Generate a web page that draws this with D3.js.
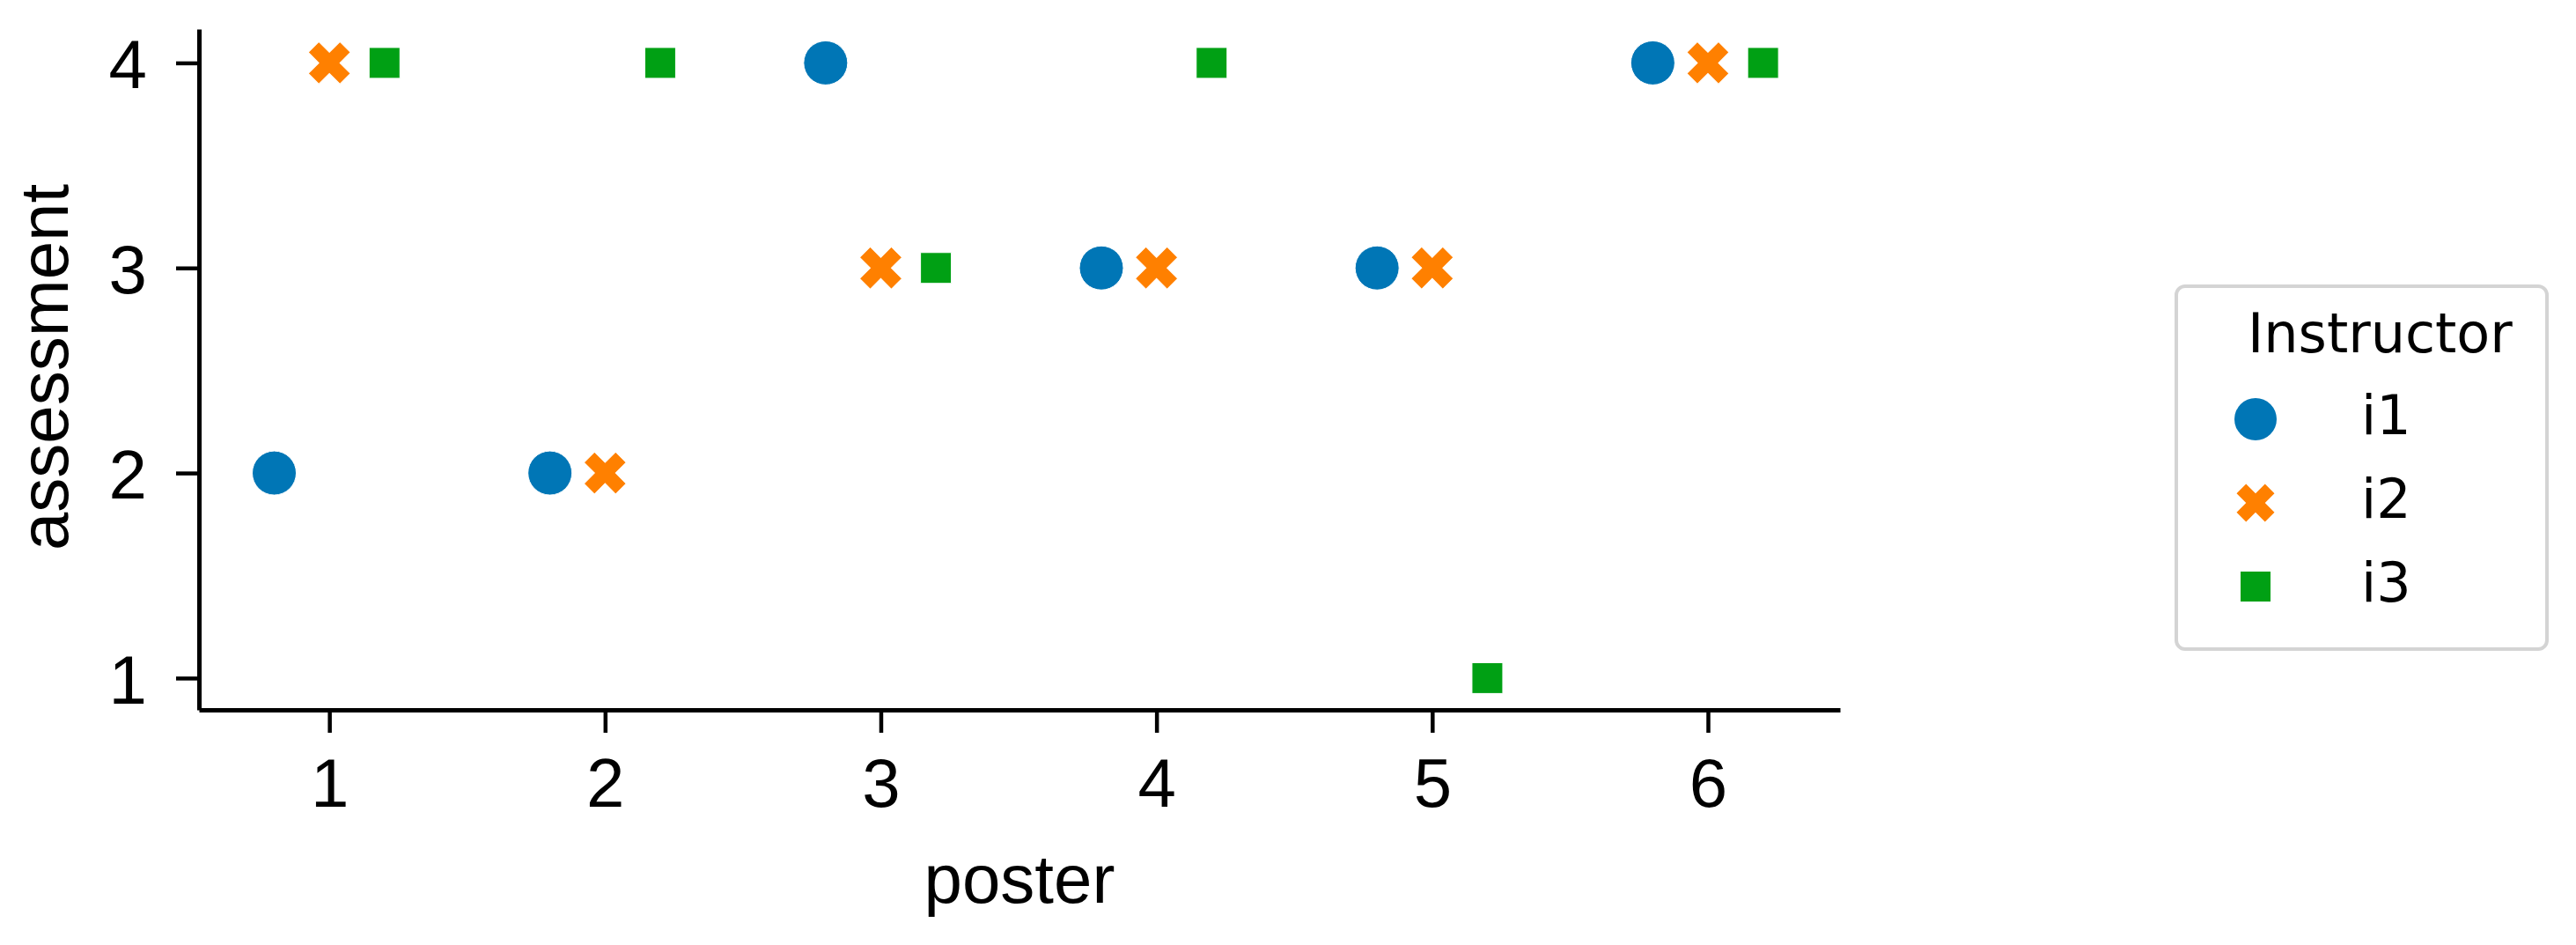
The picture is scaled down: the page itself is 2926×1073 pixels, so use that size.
<!DOCTYPE html>
<html>
<head>
<meta charset="utf-8">
<script src="https://cdn.jsdelivr.net/npm/d3@7"></script>
<style>
    body { margin: 0; background: #fff; }
    svg { display: block; }
</style>
</head>
<body>
<div id="chart"></div>
<script>
// data
const posters = [1, 2, 3, 4, 5, 6];
const instructors = ["i1", "i2", "i3"];
const i1Scores = [2, 2, 4, 3, 3, 4];
const i2Scores = [4, 2, 3, 3, 3, 4];
const i3Scores = [4, 4, 3, 4, 1, 4];
const xTickValues = [1, 2, 3, 4, 5, 6];
const yTickValues = [1, 2, 3, 4];

const scoresBy = { i1: i1Scores, i2: i2Scores, i3: i3Scores };
const dodge = { i1: -0.2, i2: 0, i3: 0.2 };

const width = 2926, height = 1073;
const axisFont = "'Liberation Sans', Arial, sans-serif";
const legendFont = "'DejaVu Sans', Verdana, sans-serif";

let svg = d3.select("#chart").append("svg")
    .attr("width", width)
    .attr("height", height);

// scales (domain padded like seaborn's 5% margins)
const x = d3.scaleLinear().domain([0.527, 6.479]).range([226, 2090]);
const y = d3.scaleLinear().domain([0.845, 4.165]).range([806, 33]);

const color = d3.scaleOrdinal()
    .domain(instructors)
    .range(["#0076b6", "#ff8000", "#00a014"]);

// marker builders: circle, filled X, square
function markerPath(name, extent) {
    if (name === "i1") {
        return d3.symbol(d3.symbolCircle, Math.PI * Math.pow(extent / 2, 2))();
    }
    if (name === "i2") {
        // cross of arm width 2r, length 6r, rotated 45deg -> half extent 2*sqrt(2)*r
        const r = (extent / 2) / (2 * Math.SQRT2);
        return d3.symbol(d3.symbolCross, 5 * Math.pow(2 * r, 2))();
    }
    return d3.symbol(d3.symbolSquare, extent * extent)();
}
const markerRot = { i1: 0, i2: 45, i3: 0 };
const markerSize = { i1: 50, i2: 48, i3: 35 };

// axes
let xAxis = svg.append("g")
    .attr("transform", "translate(0," + y.range()[0] + ")")
    .call(d3.axisBottom(x).tickValues(xTickValues).tickFormat(d3.format("d"))
        .tickSize(26).tickSizeOuter(0).tickPadding(29));

let yAxis = svg.append("g")
    .attr("transform", "translate(" + x.range()[0] + ",0)")
    .call(d3.axisLeft(y).tickValues(yTickValues).tickFormat(d3.format("d"))
        .tickSize(26).tickSizeOuter(0).tickPadding(33));

[xAxis, yAxis].forEach(function (g) {
    g.attr("font-family", null).attr("font-size", null);
    g.select(".domain").attr("stroke", "#000").attr("stroke-width", 5);
    g.selectAll(".tick line").attr("stroke", "#000").attr("stroke-width", 4.5);
    g.selectAll(".tick text")
        .attr("fill", "#000")
        .style("font-family", axisFont)
        .style("font-size", "78px");
});
yAxis.selectAll(".tick text").attr("dy", "0.36em");

// axis titles
svg.append("text")
    .attr("x", (x.range()[0] + x.range()[1]) / 2)
    .attr("y", 1025)
    .style("text-anchor", "middle")
    .style("font-family", axisFont)
    .style("font-size", "78px")
    .text("poster");

svg.append("text")
    .attr("transform", "translate(77,417) rotate(-90)")
    .style("text-anchor", "middle")
    .style("font-family", axisFont)
    .style("font-size", "78px")
    .text("assessment");

// points
let points = [];
instructors.forEach(function (name) {
    posters.forEach(function (p, i) {
        points.push({ who: name, poster: p + dodge[name], score: scoresBy[name][i] });
    });
});

svg.append("g").selectAll("path")
    .data(points)
    .join("path")
    .attr("d", d => markerPath(d.who, markerSize[d.who]))
    .attr("transform", d => "translate(" + x(d.poster) + "," + y(d.score) + ") rotate(" + markerRot[d.who] + ")")
    .attr("fill", d => color(d.who))
    .attr("stroke", "#fff")
    .attr("stroke-width", 1);

// legend
let legend = svg.append("g");

legend.append("rect")
    .attr("x", 2472)
    .attr("y", 325)
    .attr("width", 421)
    .attr("height", 412)
    .attr("rx", 10)
    .attr("fill", "#fff")
    .attr("stroke", "#d4d4d4")
    .attr("stroke-width", 4);

legend.append("text")
    .attr("x", 2553)
    .attr("y", 400)
    .style("font-family", legendFont)
    .style("font-size", "62px")
    .attr("fill", "#000")
    .text("Instructor");

const legendSize = { i1: 48, i2: 43, i3: 34 };
let rows = legend.selectAll("g.row")
    .data(instructors)
    .join("g")
    .attr("class", "row")
    .attr("transform", (d, i) => "translate(0," + (i * 95) + ")");

rows.append("path")
    .attr("d", d => markerPath(d, legendSize[d]))
    .attr("transform", d => "translate(2562,476) rotate(" + markerRot[d] + ")")
    .attr("fill", d => color(d));

rows.append("text")
    .attr("x", 2682)
    .attr("y", 493)
    .style("font-family", legendFont)
    .style("font-size", "62px")
    .attr("fill", "#000")
    .text(d => d);
</script>
</body>
</html>
